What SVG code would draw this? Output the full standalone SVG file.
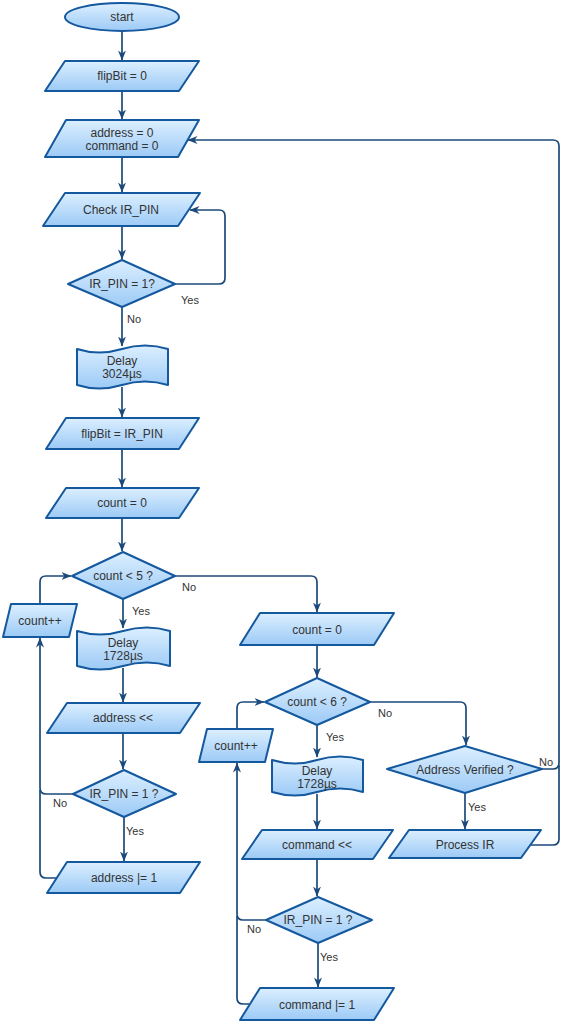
<svg xmlns="http://www.w3.org/2000/svg" width="577" height="1024" viewBox="0 0 577 1024">
<defs>
<linearGradient id="g" x1="0" y1="0" x2="0" y2="1">
<stop offset="0" stop-color="#dcefff"/>
<stop offset="1" stop-color="#9ccaf6"/>
</linearGradient>
<marker id="a" viewBox="0 0 10 8" refX="9.5" refY="4" markerWidth="10" markerHeight="8" markerUnits="userSpaceOnUse" orient="auto">
<path d="M0,0 L10,4 L0,8 L3,4 Z" fill="#1b4a7a"/>
</marker>
<style>
.n{fill:url(#g);stroke:#14589e;stroke-width:2;stroke-linejoin:round}
.t{font-family:"Liberation Sans",Arial,sans-serif;font-size:12px;fill:#333;text-anchor:middle}
.l{font-family:"Liberation Sans",Arial,sans-serif;font-size:11px;fill:#333;text-anchor:middle}
.c{fill:none;stroke:#1b4a7a;stroke-width:1.7;stroke-linejoin:round}
.ca{marker-end:url(#a)}
</style>
</defs>
<rect width="577" height="1024" fill="#ffffff"/>

<g id="connectors">
<path class="c ca" d="M122,31 V60"/>
<path class="c ca" d="M122,91 V119"/>
<path class="c ca" d="M122,157 V192"/>
<path class="c ca" d="M122,226 V259"/>
<path class="c ca" d="M175,284 H219 Q225,284 225,278 V216 Q225,210 219,210 H190"/>
<path class="c ca" d="M122,307 V346"/>
<path class="c ca" d="M122,387 V417"/>
<path class="c ca" d="M122,449 V487"/>
<path class="c ca" d="M122,518 V551"/>
<path class="c ca" d="M123,599 V628"/>
<path class="c ca" d="M123,668 V702"/>
<path class="c ca" d="M123,733 V769"/>
<path class="c ca" d="M124,817 V861"/>
<path class="c ca" d="M73,794 H46 Q40,794 40,788 V638"/>
<path class="c" d="M57,878 H46 Q40,878 40,872 V790"/>
<path class="c ca" d="M40,604 V582 Q40,576 46,576 H71"/>
<path class="c ca" d="M175,576 H311 Q317,576 317,582 V612"/>
<path class="c ca" d="M317,645 V677"/>
<path class="c ca" d="M317,725 V757"/>
<path class="c ca" d="M317,794 V829"/>
<path class="c ca" d="M317,859 V896"/>
<path class="c ca" d="M318,943 V987"/>
<path class="c ca" d="M266,920 H243 Q237,920 237,914 V763"/>
<path class="c" d="M249,1004 H243 Q237,1004 237,998 V916"/>
<path class="c ca" d="M237,729 V708 Q237,702 243,702 H264"/>
<path class="c ca" d="M370,702 H460 Q466,702 466,708 V745"/>
<path class="c ca" d="M465,793 V829"/>
<path class="c ca" d="M542,769 H553 Q559,769 559,763 V146 Q559,140 553,140 H188"/>
<path class="c" d="M530,845 H553 Q559,845 559,839 V765"/>
</g>

<g id="labels">
<text class="l" x="190" y="304">Yes</text>
<text class="l" x="134" y="323">No</text>
<text class="l" x="141" y="615">Yes</text>
<text class="l" x="189" y="591">No</text>
<text class="l" x="60" y="807">No</text>
<text class="l" x="135" y="835">Yes</text>
<text class="l" x="385" y="717">No</text>
<text class="l" x="335" y="741">Yes</text>
<text class="l" x="477" y="811">Yes</text>
<text class="l" x="546" y="766">No</text>
<text class="l" x="254" y="933">No</text>
<text class="l" x="329" y="961">Yes</text>
</g>

<g id="start">
<ellipse class="n" cx="122" cy="17" rx="57" ry="14"/>
<text class="t" x="122" y="21">start</text>
</g>
<g id="flipbit0">
<polygon class="n" points="65,61 199,61 179,91 45,91"/>
<text class="t" x="122" y="80">flipBit = 0</text>
</g>
<g id="init">
<polygon class="n" points="66,120 199,120 178,157 45,157"/>
<text class="t" x="122" y="137">address = 0</text>
<text class="t" x="122" y="150">command = 0</text>
</g>
<g id="check">
<polygon class="n" points="65,193 200,193 178,226 43,226"/>
<text class="t" x="121" y="214">Check IR_PIN</text>
</g>
<g id="dec1">
<polygon class="n" points="68,284 122,260 175,284 122,307"/>
<text class="t" x="122" y="288">IR_PIN = 1?</text>
</g>
<g id="delay1">
<path class="n" d="M77,349 Q99,356 122,349 Q145,342 168,349 V385 Q145,378 122,385 Q99,392 77,385 Z"/>
<text class="t" x="122" y="365">Delay</text>
<text class="t" x="122" y="378">3024µs</text>
</g>
<g id="flipbitpin">
<polygon class="n" points="66,418 199,418 179,449 46,449"/>
<text class="t" x="122" y="438">flipBit = IR_PIN</text>
</g>
<g id="count0a">
<polygon class="n" points="66,488 199,488 179,518 46,518"/>
<text class="t" x="122" y="507">count = 0</text>
</g>
<g id="dec5">
<polygon class="n" points="72,576 123,552 175,576 123,599"/>
<text class="t" x="123" y="580">count &lt; 5 ?</text>
</g>
<g id="countinc1">
<polygon class="n" points="11,604 77,604 69,637 3,637"/>
<text class="t" x="40" y="625">count++</text>
</g>
<g id="delay2">
<path class="n" d="M77,631 Q100,638 123,631 Q147,624 170,631 V666 Q147,659 123,666 Q100,673 77,666 Z"/>
<text class="t" x="123" y="647">Delay</text>
<text class="t" x="123" y="660">1728µs</text>
</g>
<g id="addrshift">
<polygon class="n" points="67,703 200,703 180,733 47,733"/>
<text class="t" x="123" y="722">address &lt;&lt;</text>
</g>
<g id="dec2">
<polygon class="n" points="73,794 124,770 176,794 124,817"/>
<text class="t" x="124" y="798">IR_PIN = 1 ?</text>
</g>
<g id="addror">
<polygon class="n" points="67,862 200,862 180,893 47,893"/>
<text class="t" x="124" y="882">address |= 1</text>
</g>
<g id="count0b">
<polygon class="n" points="260,613 394,613 374,645 240,645"/>
<text class="t" x="317" y="634">count = 0</text>
</g>
<g id="dec6">
<polygon class="n" points="265,702 317,678 370,702 317,725"/>
<text class="t" x="317" y="706">count &lt; 6 ?</text>
</g>
<g id="countinc2">
<polygon class="n" points="207,729 273,729 265,762 199,762"/>
<text class="t" x="236" y="750">count++</text>
</g>
<g id="delay3">
<path class="n" d="M272,760 Q295,767 317,760 Q340,753 363,760 V792 Q340,785 317,792 Q295,799 272,792 Z"/>
<text class="t" x="317" y="775">Delay</text>
<text class="t" x="317" y="788">1728µs</text>
</g>
<g id="cmdshift">
<polygon class="n" points="262,830 393,830 373,859 242,859"/>
<text class="t" x="317" y="849">command &lt;&lt;</text>
</g>
<g id="dec3">
<polygon class="n" points="266,920 318,897 372,920 318,943"/>
<text class="t" x="318" y="924">IR_PIN = 1 ?</text>
</g>
<g id="cmdor">
<polygon class="n" points="260,988 394,988 374,1020 240,1020"/>
<text class="t" x="317" y="1009">command |= 1</text>
</g>
<g id="addrverified">
<polygon class="n" points="387,769 465,746 542,769 465,793"/>
<text class="t" x="465" y="774">Address Verified ?</text>
</g>
<g id="processir">
<polygon class="n" points="409,830 541,830 521,858 389,858"/>
<text class="t" x="465" y="849">Process IR</text>
</g>
</svg>
